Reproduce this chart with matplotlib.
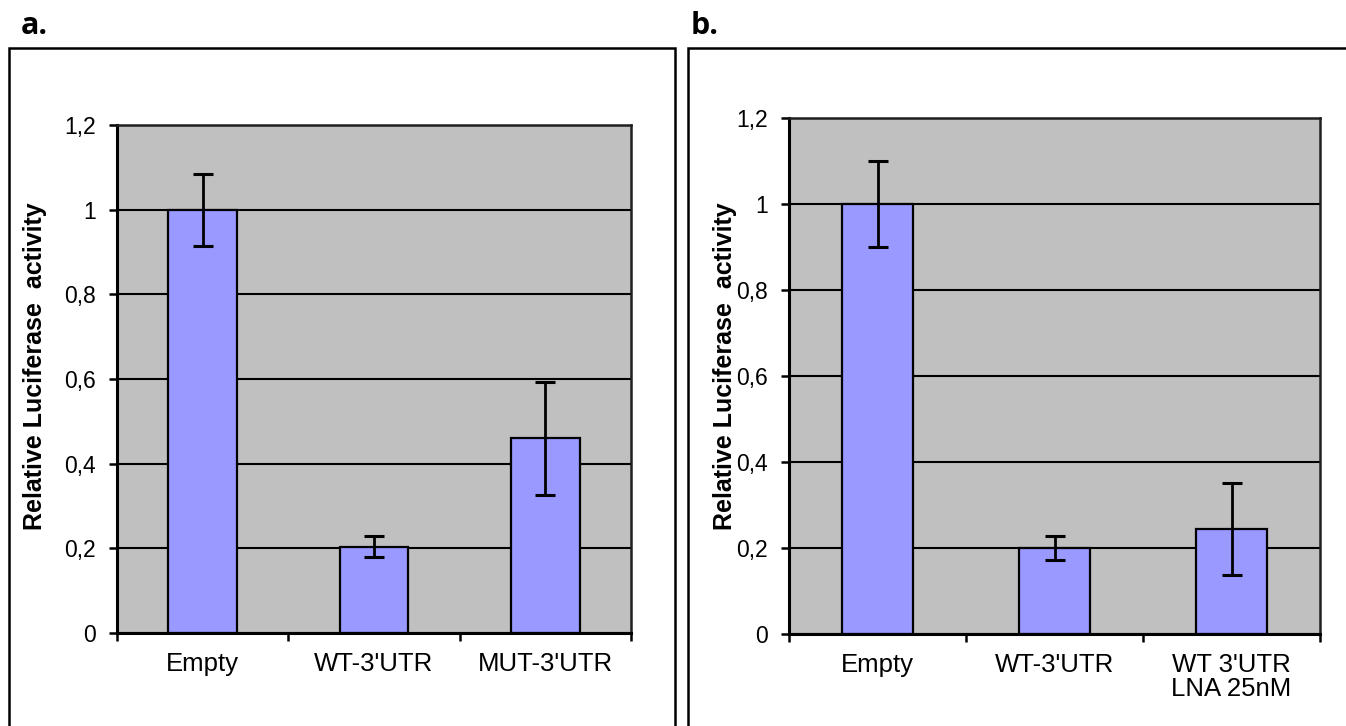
"""Relative luciferase activity, two-panel bar chart (Excel-style)."""

import matplotlib
matplotlib.use("Agg")
import matplotlib.pyplot as plt
from matplotlib.patches import Rectangle

plt.rcParams["font.family"] = ["Liberation Sans", "DejaVu Sans"]

# panel a
cats_a = ["Empty", "WT-3'UTR", "MUT-3'UTR"]
vals_a = [1.0, 0.204, 0.46]
errs_a = [0.085, 0.025, 0.134]

# panel b
cats_b = ["Empty", "WT-3'UTR", "WT 3'UTR\nLNA 25nM"]
vals_b = [1.0, 0.2, 0.245]
errs_b = [0.1, 0.029, 0.107]

yticks = [0, 0.2, 0.4, 0.6, 0.8, 1.0, 1.2]
ytick_labels = ["0", "0,2", "0,4", "0,6", "0,8", "1", "1,2"]
ylabel = "Relative Luciferase  activity"

BAR_COLOR = "#9999ff"
PLOT_BG = "#c0c0c0"

W, H = 1346, 726
fig = plt.figure(figsize=(W / 100, H / 100), dpi=100)


def px_rect(x0, y0, x1, y1):
    # pixel box (top-left origin) -> figure fraction [l, b, w, h]
    return [x0 / W, 1 - y1 / H, (x1 - x0) / W, (y1 - y0) / H]


def bar_panel(ax, cats, vals, errs):
    n = len(cats)
    xs = list(range(n))
    ax.set_facecolor(PLOT_BG)
    ax.set_axisbelow(True)
    ax.yaxis.grid(True, color="black", linewidth=1.5)
    ax.bar(xs, vals, width=0.4, color=BAR_COLOR, edgecolor="black",
           linewidth=1.6, zorder=2)
    ax.errorbar(xs, vals, yerr=errs, fmt="none", ecolor="black",
                elinewidth=2, capsize=7, capthick=2.2, zorder=3)
    ax.set_xlim(-0.5, n - 0.5)
    ax.set_ylim(0, 1.2)
    ax.set_yticks(yticks)
    ax.set_yticklabels(ytick_labels, fontsize=16.5)
    # ticks at category boundaries, labels at centres
    ax.set_xticks([i - 0.5 for i in range(n + 1)])
    ax.set_xticklabels([])
    ax.set_xticks(xs, minor=True)
    ax.set_xticklabels(cats, minor=True, fontsize=18.5, linespacing=1.0)
    ax.tick_params(axis="x", which="minor", length=0, pad=14)
    ax.tick_params(axis="x", which="major", length=6, width=1.8, direction="out")
    ax.tick_params(axis="y", length=6, width=1.8, direction="out", pad=9)
    for s in ("left", "bottom"):
        ax.spines[s].set_linewidth(2.2)
        ax.spines[s].set_color("black")
    for s in ("top", "right"):
        ax.spines[s].set_linewidth(1.8)
        ax.spines[s].set_color("#202020")


ax_a = fig.add_axes(px_rect(117, 125, 631, 633))
bar_panel(ax_a, cats_a, vals_a, errs_a)
ax_b = fig.add_axes(px_rect(789, 118, 1320, 634))
bar_panel(ax_b, cats_b, vals_b, errs_b)

# panel frames (run off the bottom / right of the image)
for x0, x1 in ((9, 675), (688, 1360)):
    l, b, w, h = px_rect(x0, 48, x1, H + 20)
    fig.patches.append(Rectangle((l, b), w, h, transform=fig.transFigure,
                                 fill=False, edgecolor="black", linewidth=1.8))

fig.text(35 / W, 1 - 366 / H, ylabel, rotation=90, fontsize=18,
         fontweight="bold", ha="center", va="center")
fig.text(725 / W, 1 - 366 / H, ylabel, rotation=90, fontsize=18,
         fontweight="bold", ha="center", va="center")

fig.text(21 / W, 1 - 26 / H, "a.", fontsize=22, fontweight="bold",
         family=["Open Sans", "DejaVu Sans"], ha="left", va="center")
fig.text(691 / W, 1 - 26 / H, "b.", fontsize=22, fontweight="bold",
         family=["Open Sans", "DejaVu Sans"], ha="left", va="center")

fig.savefig("out.png", dpi=100)
